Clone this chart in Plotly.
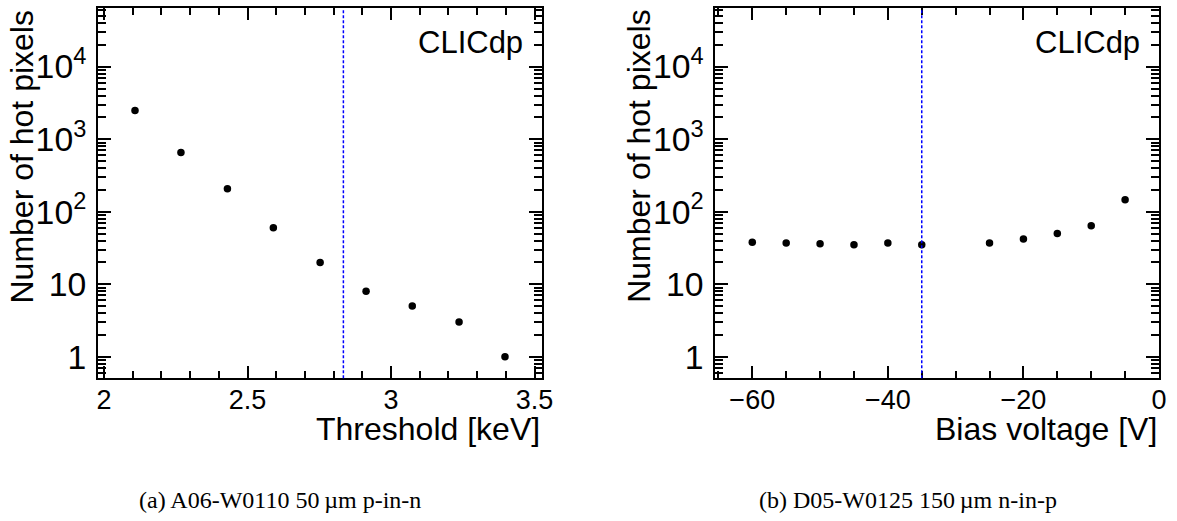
import plotly.graph_objects as go

# ---------------- data ----------------
threshold_kev = [2.108, 2.268, 2.430, 2.590, 2.753, 2.913, 3.074, 3.237, 3.397]
hot_pixels_a = [2490, 654, 207, 60, 20, 8, 5, 3, 1]

bias_voltage_v = [-60, -55, -50, -45, -40, -35, -25, -20, -15, -10, -5]
hot_pixels_b = [38, 37, 36, 35, 37, 35, 37, 42, 50, 64, 146]

operating_threshold_kev = 2.834
operating_bias_v = -35

y_title = "Number of hot pixels"
x_titles = ["Threshold [keV]", "Bias voltage [V]"]
captions = ["(a) A06-W0110 50\u2009\u00b5m p-in-n", "(b) D05-W0125 150\u2009\u00b5m n-in-p"]
watermark = "CLICdp"

# ---------------- layout helpers ----------------
W, H = 1177, 521
FONT = "Liberation Sans, Arial, Helvetica, sans-serif"
SERIF = "Liberation Serif, Times New Roman, serif"

def px_x(p):
    return p / W

def px_y(p):
    return 1 - p / H

frame_top, frame_bottom = 8.3, 378.3
left_frame = (97.7, 542.3)
right_frame = (715.0, 1159.0)
left_xrange = [1.978, 3.527]
right_xrange = [-65.5, 0]
log_yrange = [-0.2976, 4.805]

fig = go.Figure()

marker = dict(color="black", size=7.5, symbol="circle")
ghost = dict(color="rgba(0,0,0,0)", size=1)

# invisible copies so the tick-only overlay axes get drawn
fig.add_trace(go.Scatter(x=threshold_kev, y=hot_pixels_a, mode="markers", marker=ghost,
                         xaxis="x3", yaxis="y", showlegend=False, hoverinfo="skip"))
fig.add_trace(go.Scatter(x=threshold_kev, y=hot_pixels_a, mode="markers", marker=ghost,
                         xaxis="x", yaxis="y3", showlegend=False, hoverinfo="skip"))
fig.add_trace(go.Scatter(x=bias_voltage_v, y=hot_pixels_b, mode="markers", marker=ghost,
                         xaxis="x4", yaxis="y2", showlegend=False, hoverinfo="skip"))
fig.add_trace(go.Scatter(x=bias_voltage_v, y=hot_pixels_b, mode="markers", marker=ghost,
                         xaxis="x2", yaxis="y4", showlegend=False, hoverinfo="skip"))

# visible data
fig.add_trace(go.Scatter(x=threshold_kev, y=hot_pixels_a, mode="markers",
                         marker=marker, xaxis="x", yaxis="y", showlegend=False,
                         hoverinfo="skip"))
fig.add_trace(go.Scatter(x=bias_voltage_v, y=hot_pixels_b, mode="markers",
                         marker=marker, xaxis="x2", yaxis="y2", showlegend=False,
                         hoverinfo="skip"))

tickfont = dict(family=FONT, size=27, color="black")
common = dict(showline=True, linewidth=2, linecolor="black", mirror="ticks",
              ticks="inside", tickwidth=2, tickcolor="black", automargin=False,
              showgrid=False, zeroline=False, tickfont=tickfont)

def xaxis(domain, rng, dtick, anchor):
    return dict(common, domain=domain, range=rng, dtick=dtick, tick0=0,
                ticklen=12, anchor=anchor, ticklabelstandoff=-4)

def yaxis(anchor):
    return dict(common, type="log", range=log_yrange, dtick=1,
                exponentformat="power", domain=[px_y(frame_bottom), px_y(frame_top)],
                ticklen=13, anchor=anchor, ticklabelstandoff=4)

# overlay axes carrying only the short (minor) ticks
def xaxis_minor(over, rng, dtick, anchor):
    return dict(common, overlaying=over, range=rng, dtick=dtick, tick0=0,
                ticklen=7, anchor=anchor, side="bottom", showticklabels=False)

def yaxis_minor(over, anchor):
    return dict(common, overlaying=over, type="log", range=log_yrange, dtick="D1",
                ticklen=8, anchor=anchor, side="left", showticklabels=False)

fig.update_layout(
    template="none",
    width=W, height=H,
    margin=dict(l=0, r=0, t=0, b=0, pad=0),
    paper_bgcolor="white", plot_bgcolor="white",
    font=dict(family=FONT, color="black"),
    xaxis=xaxis([px_x(left_frame[0]), px_x(left_frame[1])], left_xrange, 0.5, "y"),
    yaxis=yaxis("x"),
    xaxis2=xaxis([px_x(right_frame[0]), px_x(right_frame[1])], right_xrange, 20, "y2"),
    yaxis2=yaxis("x2"),
    xaxis3=xaxis_minor("x", left_xrange, 0.1, "y"),
    yaxis3=yaxis_minor("y", "x"),
    xaxis4=xaxis_minor("x2", right_xrange, 5, "y2"),
    yaxis4=yaxis_minor("y2", "x2"),
    hovermode=False,
)

# operating-point lines
dash_line = dict(color="#0000ff", width=1.5, dash="3px,2px")
fig.add_shape(type="line", xref="x", yref="y domain", x0=operating_threshold_kev,
              x1=operating_threshold_kev, y0=0, y1=1, line=dash_line)
fig.add_shape(type="line", xref="x2", yref="y2 domain", x0=operating_bias_v,
              x1=operating_bias_v, y0=0, y1=1, line=dash_line)

title_font = dict(family=FONT, size=32, color="black")
for i, (xa, ya, fr) in enumerate([("x", "y", left_frame), ("x2", "y2", right_frame)]):
    fig.add_annotation(text=x_titles[i], xref=f"{xa} domain", x=1, xanchor="right",
                       yref="paper", y=px_y(429), yanchor="middle",
                       showarrow=False, font=title_font)
    fig.add_annotation(text=y_title, textangle=-90, xref="paper",
                       x=px_x(fr[0] - 76), xanchor="center",
                       yref=f"{ya} domain", y=1, yanchor="top",
                       showarrow=False, font=title_font)
    fig.add_annotation(text=watermark, xref="paper", x=px_x(fr[1] - 17), xanchor="right",
                       yref="paper", y=px_y(42), yanchor="middle",
                       showarrow=False, font=dict(family=FONT, size=31, color="black"))

for cap, xl in zip(captions, [137, 757]):
    fig.add_annotation(text=cap, xref="paper", x=px_x(xl), xanchor="left",
                       yref="paper", y=px_y(500), yanchor="middle",
                       showarrow=False, font=dict(family=SERIF, size=24, color="black"))

fig.write_html("out.html", config={"displayModeBar": False, "staticPlot": True},
               post_script="document.body.style.margin='0';document.body.style.overflow='hidden';")
